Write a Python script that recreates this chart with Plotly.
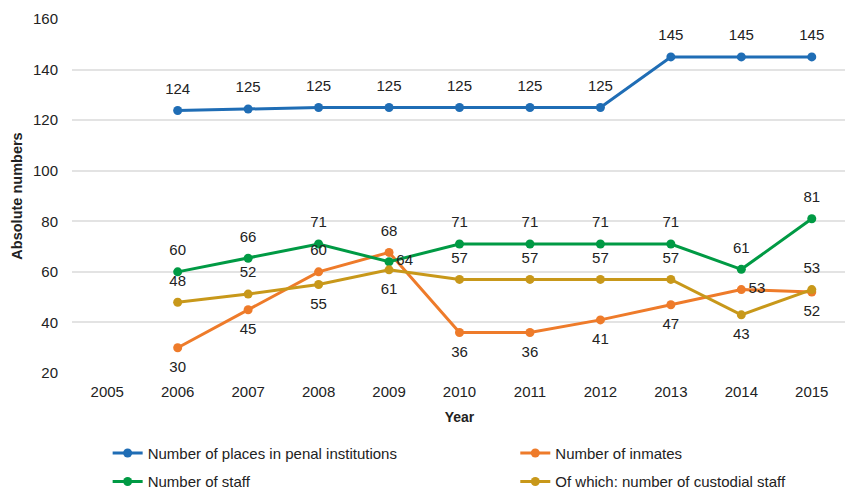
import plotly.graph_objects as go

years = [2005, 2006, 2007, 2008, 2009, 2010, 2011, 2012, 2013, 2014, 2015]
data_years = [2006, 2007, 2008, 2009, 2010, 2011, 2012, 2013, 2014, 2015]

places = [123.8, 124.4, 125, 125, 125, 125, 125, 145, 145, 145]
places_lbl = ["124", "125", "125", "125", "125", "125", "125", "145", "145", "145"]

inmates = [30, 45, 60, 67.7, 36, 36, 41, 47, 53, 52]
inmates_lbl = ["30", "45", "60", "68", "36", "36", "41", "47", "53", "52"]

staff = [60, 65.4, 71, 64, 71, 71, 71, 71, 61, 81]
staff_lbl = ["60", "66", "71", "64", "71", "71", "71", "71", "61", "81"]

custodial = [48, 51.2, 55, 60.8, 57, 57, 57, 57, 43, 53]
custodial_lbl = ["48", "52", "55", "61", "57", "57", "57", "57", "43", "53"]

names = ["Number of places in penal institutions", "Number of inmates",
         "Number of staff", "Of which: number of custodial staff"]
colors = ["#1F6DB5", "#EE7B2A", "#009A44", "#C8981A"]

T, B, R = "top center", "bottom center", "middle right"
pos_places = [T] * 10
pos_inmates = [B, B, T, T, B, B, B, B, R, B]
pos_staff = [T, T, T, R, T, T, T, T, T, T]
pos_custodial = [T, T, B, B, T, T, T, T, B, T]

series = [
    (places, places_lbl, pos_places, "legend", "g1"),
    (inmates, inmates_lbl, pos_inmates, "legend2", "g2"),
    (staff, staff_lbl, pos_staff, "legend", "g3"),
    (custodial, custodial_lbl, pos_custodial, "legend2", "g4"),
]

fig = go.Figure()
for (vals, lbl, pos, leg, grp), name, col in zip(series, names, colors):
    fig.add_trace(go.Scatter(
        x=data_years, y=vals, name=name, mode="lines+markers",
        line=dict(color=col, width=3), marker=dict(color=col, size=9),
        legend=leg, legendgroup=grp, cliponaxis=False,
    ))
for (vals, lbl, pos, leg, grp), name, col in zip(series, names, colors):
    sizes = [10 if p == R else 19 for p in pos]
    fig.add_trace(go.Scatter(
        x=data_years, y=vals, mode="markers+text", text=lbl, textposition=pos,
        textfont=dict(family="Liberation Sans, Arial", size=15, color="#222222"),
        marker=dict(size=sizes, color="rgba(0,0,0,0)", line=dict(width=0)),
        showlegend=False, hoverinfo="skip", cliponaxis=False,
    ))

legfont = dict(family="Liberation Sans Narrow, Arial Narrow, Liberation Sans", size=15, color="#222222")
fig.update_layout(
    width=845, height=482,
    margin=dict(l=64, r=6, t=11, b=117, autoexpand=False),
    paper_bgcolor="white", plot_bgcolor="white",
    font=dict(family="Liberation Sans, Arial", size=15, color="#222222"),
    xaxis=dict(
        tickmode="array", tickvals=years, ticktext=[str(y) for y in years],
        range=[2004.5, 2015.5], showgrid=False, zeroline=False,
        showline=False, ticks="outside", ticklen=5, tickcolor="rgba(0,0,0,0)",
        title=dict(text="<b>Year</b>", font=dict(size=14), standoff=13),
        tickfont=dict(size=15),
    ),
    yaxis=dict(
        range=[20, 160], dtick=20, showgrid=True, gridcolor="#E3E3E3",
        gridwidth=1.5, zeroline=False, showline=False,
        ticks="outside", ticklen=10, tickcolor="rgba(0,0,0,0)",
        title=dict(text="<b>Absolute numbers</b>", font=dict(size=14.5), standoff=6),
        tickfont=dict(size=15),
    ),
    legend=dict(x=0.046, y=-0.18, xanchor="left", yanchor="top",
                orientation="v", tracegroupgap=6, font=legfont, itemwidth=30,
                bgcolor="rgba(0,0,0,0)"),
    legend2=dict(x=0.572, y=-0.18, xanchor="left", yanchor="top",
                 orientation="v", tracegroupgap=6, font=legfont, itemwidth=30,
                 bgcolor="rgba(0,0,0,0)"),
    showlegend=True,
)

fig.write_html("out.html")
